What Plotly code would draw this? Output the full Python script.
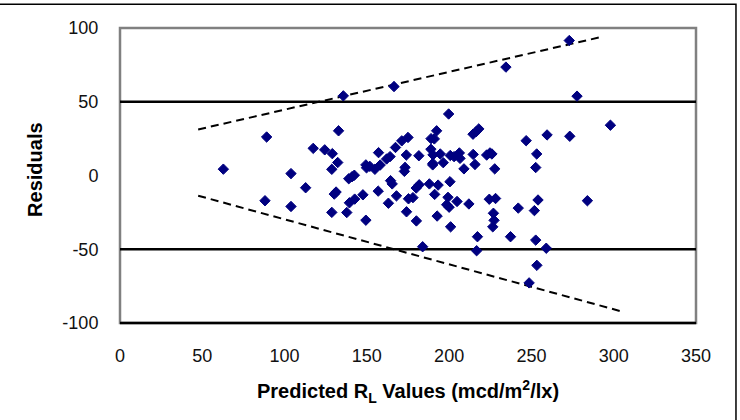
import plotly.graph_objects as go

# Predicted RL values (x) and residuals (y)
pred_x = [273, 234.5, 166.5, 135.7, 277.7, 199.7, 298, 132.8, 89.1, 259.5, 273.3, 246.8,
          192.4, 191, 189, 214.5, 216.5, 218, 117.4, 124.4, 129, 132.3, 128.7, 62.8,
          103.9, 112.8, 131.3, 130.2, 88.1, 103.9, 128.7, 137.8, 139.4, 142.6, 147.6, 139,
          141, 142.4, 149.4, 156.9, 163.1, 164.4, 165.4, 168, 174.1, 175.3, 178, 180.1,
          180, 181.8, 183.9, 188, 191.2, 193.3, 192.7, 200.5, 199.3, 198.5, 200, 200.9,
          204.8, 212, 217.2, 216.7, 224.4, 228.2, 226.9, 227.3, 226.5, 237.3, 242, 248.6,
          252.6, 253.3, 259, 251.8, 254, 252.6, 253.2, 284,
          227.7, 215.7, 209, 214.6, 222.8, 224.8, 226, 206.2, 206.6, 200.7, 203, 194.6,
          196.4, 190.1, 190, 188.9, 181.6, 174, 175, 171.2, 167.4, 164.1, 162, 157.1,
          158.1, 154.9, 149.4, 149.8, 151.8, 173.2, 172.8, 190.2]
residuals = [91.5, 73.5, 60.3, 54, 53.8, 41.7, 34.1, 30.3, 26.1, 27.5, 26.6, 23.6,
             30.3, 24.8, 25, 28, 29.8, 31.6, 18.4, 17.4, 14.8, 8.8, 4.2, 4.3,
             1.3, -8.3, -11.2, -12.6, -17.1, -21, -25, -25.1, -18.5, -16, -13.1, -2.2,
             -0.8, 0.2, -30.3, -10.6, -18.8, -3.5, -5.7, -13.8, -24.6, -15.8, -15, -30.8,
             -8.5, -6.3, -48.3, -5.7, -12.8, -6.5, -27.5, -4.2, -14.8, -19.8, -21.5, -34.8,
             -17.6, -19.3, -41.5, -51, -16.1, -15.6, -25.6, -30.4, -34.8, -41.5, -22.1, -72.8,
             -43.8, -60.9, -49.3, -23.8, -16.6, 5.4, 14.6, -17.1,
             4.5, 7.5, 4.5, 14.3, 13.9, 15.3, 14.6, 15.3, 11.6, 13.6, 12.8, 14.6,
             8.7, 8.2, 7.2, 17.8, 13.4, 13.9, 25.8, 23.5, 19, 12.8, 11.2, 15.5,
             7.1, 4.2, 7.2, 5.2, 6.2, 5.5, 2.8, 14]

# Reference lines
limit_x = [0, 350]
upper_limit = [50, 50]
lower_limit = [-50, -50]
env_upper_x = [47.5, 292.8]
env_upper_y = [31.2, 94]
env_lower_x = [47.5, 306.5]
env_lower_y = [-13.7, -92.7]

x_ticks = [0, 50, 100, 150, 200, 250, 300, 350]
x_tick_labels = ["0", "50", "100", "150", "200", "250", "300", "350"]
y_ticks = [-100, -50, 0, 50, 100]
y_tick_labels = ["-100", "-50", "0", "50", "100"]

FONT = "Liberation Sans, Arial, sans-serif"

fig = go.Figure()
for yy in (upper_limit, lower_limit):
    fig.add_trace(go.Scatter(x=limit_x, y=yy, mode="lines",
                             line=dict(color="black", width=2.5), hoverinfo="skip"))
fig.add_trace(go.Scatter(x=env_upper_x, y=env_upper_y, mode="lines",
                         line=dict(color="black", width=2, dash="8px,5px")))
fig.add_trace(go.Scatter(x=env_lower_x, y=env_lower_y, mode="lines",
                         line=dict(color="black", width=2, dash="8px,5px")))
fig.add_trace(go.Scatter(x=pred_x, y=residuals, mode="markers",
                         marker=dict(symbol="diamond", size=8, color="#000080",
                                     line=dict(color="#000080", width=1))))

fig.update_layout(
    width=740, height=420,
    margin=dict(l=120, r=44, t=28, b=97),
    paper_bgcolor="white", plot_bgcolor="white",
    showlegend=False,
    font=dict(family=FONT, size=18, color="black"),
    xaxis=dict(range=[0, 350], tickvals=x_ticks, ticktext=x_tick_labels,
               showgrid=False, zeroline=False,
               showline=False, ticks="outside", ticklen=16,
               tickcolor="rgba(0,0,0,0)", tickfont=dict(size=18, color="#111111")),
    yaxis=dict(range=[-100, 100], tickvals=y_ticks, ticktext=y_tick_labels,
               showgrid=False, zeroline=False,
               showline=False, ticks="outside", ticklen=17,
               tickcolor="rgba(0,0,0,0)", tickfont=dict(size=18, color="#111111")),
    shapes=[
        dict(type="rect", xref="paper", yref="paper", x0=0, x1=1, y0=0, y1=1,
             line=dict(color="#808080", width=2.5), layer="below"),
        dict(type="line", xref="paper", yref="paper", x0=0, x1=1, y0=0, y1=0,
             line=dict(color="black", width=2.5), layer="above"),
        dict(type="rect", xref="paper", yref="paper", x0=-0.25, x1=1.0694,
             y0=-0.4, y1=1.0808, line=dict(color="black", width=1.5)),
    ],
    annotations=[
        dict(text="Predicted R<sub>L</sub> Values (mcd/m<sup>2</sup>/lx)",
             xref="paper", yref="paper", x=0.5, y=-0.232, showarrow=False,
             xanchor="center", yanchor="middle",
             font=dict(family=FONT, size=20, color="black", weight="bold")),
        dict(text="Residuals", xref="paper", yref="paper", x=-0.1476, y=0.519,
             showarrow=False, textangle=-90, xanchor="center", yanchor="middle",
             font=dict(family=FONT, size=20, color="black", weight="bold")),
    ],
)

fig.write_html("out.html")
